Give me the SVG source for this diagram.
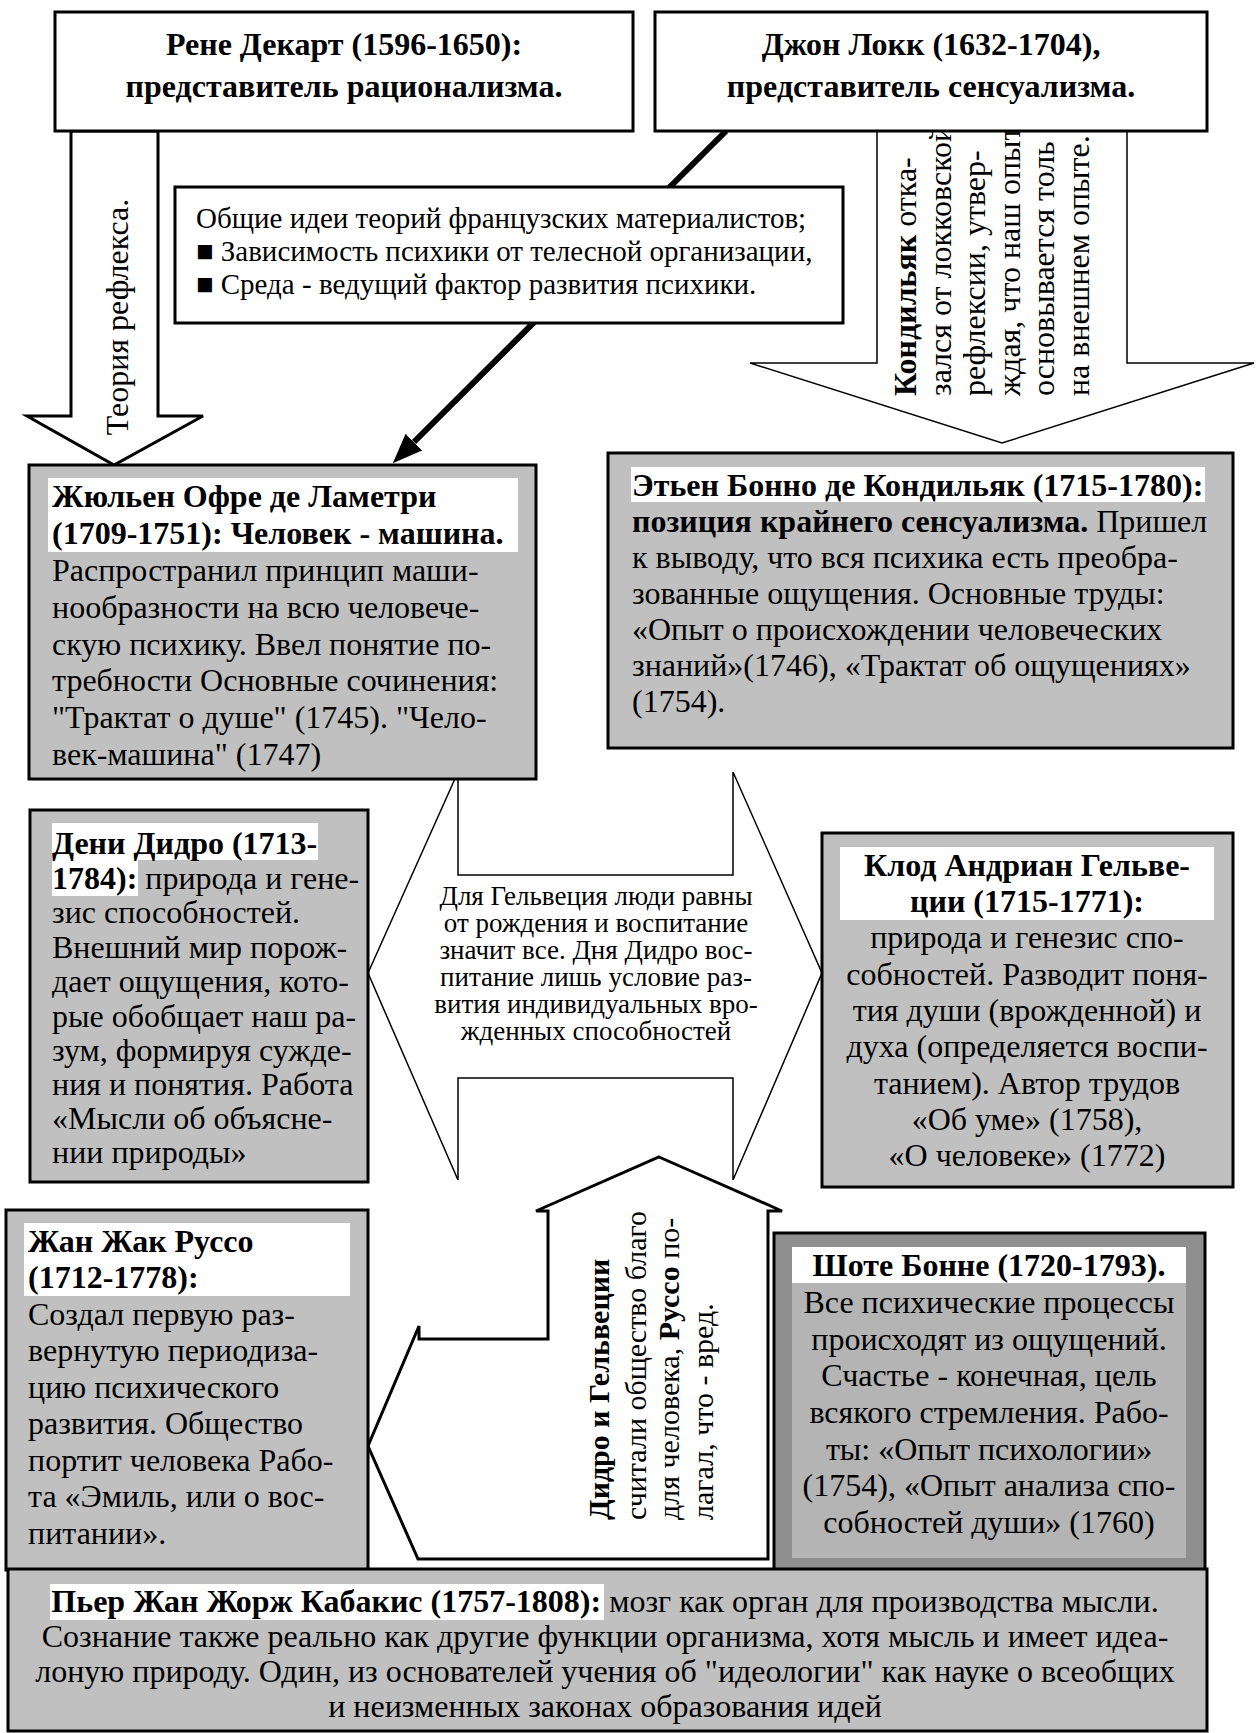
<svg xmlns="http://www.w3.org/2000/svg" width="1257" height="1733" viewBox="0 0 1257 1733">
<style>
text{font-family:"Liberation Serif","Times New Roman",serif;font-size:32px;fill:#000}
.b{font-weight:bold}
.c{text-anchor:middle}
.box{fill:#fff;stroke:#000;stroke-width:3}
.gray{fill:#c0c0c0;stroke:#000;stroke-width:3}
.hl{fill:#fff}
.thin{fill:#fff;stroke:#000;stroke-width:1.5}
.thick{fill:#fff;stroke:#000;stroke-width:3}
text.col{font-size:32px}
text.mid{font-size:27px;text-anchor:middle}
text.up{font-size:30px}
text.gen{font-size:29px}
</style>
<defs>
<marker id="ah" markerUnits="userSpaceOnUse" markerWidth="30" markerHeight="24" viewBox="0 0 28 22" refX="0" refY="11" orient="auto">
<path d="M0,0 L28,11 L0,22 z" fill="#000"/>
</marker>
</defs>
<rect width="1257" height="1733" fill="#fff"/>

<g id="connectors">
<polygon class="thick" points="71,131 71,416 27,416 114,465 203,416 158,416 158,131"/>
<text transform="translate(128,317) rotate(-90)" class="c">Теория рефлекса.</text>
<line x1="726" y1="131" x2="414" y2="442" stroke="#000" stroke-width="6" marker-end="url(#ah)"/>
<polygon class="thin" points="877,131 877,363 750,363 1002,443 1254,363 1127,363 1127,131"/>
<text class="col" transform="translate(916,396) rotate(-90)"><tspan class="b">Кондильяк</tspan> отка-</text>
<text class="col" transform="translate(950.5,396) rotate(-90)">зался от локковской</text>
<text class="col" transform="translate(985,396) rotate(-90)">рефлексии, утвер-</text>
<text class="col" transform="translate(1019.5,396) rotate(-90)">ждая, что наш опыт</text>
<text class="col" transform="translate(1054,396) rotate(-90)">основывается толь</text>
<text class="col" transform="translate(1088.5,396) rotate(-90)">на внешнем опыте.</text>
<polygon class="thin" points="368,973 458,772 458,875 733,875 733,772 822,973 733,1180 733,1078 458,1078 458,1180"/>
<text class="mid" x="596" y="905">Для Гельвеция люди равны</text>
<text class="mid" x="596" y="932">от рождения и воспитание</text>
<text class="mid" x="596" y="959">значит все. Дня Дидро вос-</text>
<text class="mid" x="596" y="986">питание лишь условие раз-</text>
<text class="mid" x="596" y="1013">вития индивидуальных вро-</text>
<text class="mid" x="596" y="1040">жденных способностей</text>
<polygon class="thick" points="659,1157 782,1211 768,1211 768,1559 418,1559 368,1446 419,1326 419,1339 548,1339 548,1211 536,1211"/>
<text class="up b" transform="translate(609,1520) rotate(-90)">Дидро и Гельвеции</text>
<text class="up" transform="translate(646,1520) rotate(-90)">считали общество благо</text>
<text class="up" transform="translate(679,1520) rotate(-90)">для человека, <tspan class="b">Руссо</tspan> по-</text>
<text class="up" transform="translate(713,1520) rotate(-90)">лагал, что - вред.</text>
</g>

<g id="descartes">
<rect class="box" x="55" y="12" width="578" height="119"/>
<text class="b c" x="344" y="55">Рене Декарт (1596-1650):</text>
<text class="b c" x="344" y="97">представитель рационализма.</text>
</g>

<g id="locke">
<rect class="box" x="655" y="12" width="552" height="119"/>
<text class="b c" x="931" y="55">Джон Локк (1632-1704),</text>
<text class="b c" x="931" y="97">представитель сенсуализма.</text>
</g>

<g id="common-ideas">
<rect class="box" x="175" y="187" width="668" height="136"/>
<text class="gen" x="196" y="228">Общие идеи теорий французских материалистов;</text>
<text class="gen" x="196" y="261">■ Зависимость психики от телесной организации,</text>
<text class="gen" x="196" y="294">■ Среда - ведущий фактор развития психики.</text>
</g>

<g id="lamettrie">
<rect class="gray" x="29" y="465" width="507" height="314"/>
<rect class="hl" x="48" y="478" width="470" height="74"/>
<text class="b" x="52" y="507">Жюльен Офре де Ламетри</text>
<text class="b" x="52" y="544">(1709-1751): Человек - машина.</text>
<text x="52" y="581">Распространил принцип маши-</text>
<text x="52" y="618">нообразности на всю человече-</text>
<text x="52" y="655">скую психику. Ввел понятие по-</text>
<text x="52" y="691">требности Основные сочинения:</text>
<text x="52" y="728">"Трактат о душе" (1745). "Чело-</text>
<text x="52" y="765">век-машина" (1747)</text>
</g>

<g id="condillac">
<rect class="gray" x="608" y="453" width="625" height="295"/>
<rect class="hl" x="631" y="467" width="574" height="35"/>
<text class="b" x="632" y="496">Этьен Бонно де Кондильяк (1715-1780):</text>
<text x="632" y="532"><tspan class="b">позиция крайнего сенсуализма.</tspan> Пришел</text>
<text x="632" y="568">к выводу, что вся психика есть преобра-</text>
<text x="632" y="604">зованные ощущения. Основные труды:</text>
<text x="632" y="640">«Опыт о происхождении человеческих</text>
<text x="632" y="676">знаний»(1746), «Трактат об ощущениях»</text>
<text x="632" y="712">(1754).</text>
</g>

<g id="diderot">
<rect class="gray" x="30" y="810" width="338" height="372"/>
<rect class="hl" x="52" y="823" width="266" height="37"/>
<rect class="hl" x="52" y="860" width="86" height="36"/>
<text class="b" x="52" y="854">Дени Дидро (1713-</text>
<text x="52" y="889"><tspan class="b">1784):</tspan> природа и гене-</text>
<text x="52" y="923">зис способностей.</text>
<text x="52" y="958">Внешний мир порож-</text>
<text x="52" y="992">дает ощущения, кото-</text>
<text x="52" y="1027">рые обобщает наш ра-</text>
<text x="52" y="1061">зум, формируя сужде-</text>
<text x="52" y="1095">ния и понятия. Работа</text>
<text x="52" y="1129">«Мысли об объясне-</text>
<text x="52" y="1163">нии природы»</text>
</g>

<g id="helvetius">
<rect class="gray" x="822" y="833" width="411" height="354"/>
<rect class="hl" x="840" y="847" width="374" height="73"/>
<text class="b c" x="1027" y="876">Клод Андриан Гельве-</text>
<text class="b c" x="1027" y="912">ции (1715-1771):</text>
<text class="c" x="1027" y="948">природа и генезис спо-</text>
<text class="c" x="1027" y="985">собностей. Разводит поня-</text>
<text class="c" x="1027" y="1021">тия души (врожденной) и</text>
<text class="c" x="1027" y="1057">духа (определяется воспи-</text>
<text class="c" x="1027" y="1094">танием). Автор трудов</text>
<text class="c" x="1027" y="1130">«Об уме» (1758),</text>
<text class="c" x="1027" y="1166">«О человеке» (1772)</text>
</g>

<g id="rousseau">
<rect class="gray" x="6" y="1210" width="362" height="360"/>
<rect class="hl" x="24" y="1223" width="326" height="73"/>
<text class="b" x="28" y="1252">Жан Жак Руссо</text>
<text class="b" x="28" y="1288">(1712-1778):</text>
<text x="28" y="1325">Создал первую раз-</text>
<text x="28" y="1361">вернутую периодиза-</text>
<text x="28" y="1398">цию психического</text>
<text x="28" y="1434">развития. Общество</text>
<text x="28" y="1471">портит человека Рабо-</text>
<text x="28" y="1507">та «Эмиль, или о вос-</text>
<text x="28" y="1544">питании».</text>
</g>

<g id="bonnet">
<rect x="774" y="1233" width="431" height="337" fill="#8f8f8f" stroke="#000" stroke-width="3"/>
<rect x="792" y="1247" width="394" height="311" fill="#b4b4b4"/>
<rect class="hl" x="792" y="1247" width="394" height="36"/>
<text class="b c" x="989" y="1276">Шоте Бонне (1720-1793).</text>
<text class="c" x="989" y="1313">Все психические процессы</text>
<text class="c" x="989" y="1350">происходят из ощущений.</text>
<text class="c" x="989" y="1386">Счастье - конечная, цель</text>
<text class="c" x="989" y="1423">всякого стремления. Рабо-</text>
<text class="c" x="989" y="1460">ты: «Опыт психологии»</text>
<text class="c" x="989" y="1496">(1754), «Опыт анализа спо-</text>
<text class="c" x="989" y="1533">собностей души» (1760)</text>
</g>

<g id="cabanis">
<rect class="gray" x="8" y="1569" width="1199" height="162"/>
<rect class="hl" x="50" y="1584" width="554" height="36"/>
<text class="c" x="605" y="1612"><tspan class="b">Пьер Жан Жорж Кабакис (1757-1808):</tspan> мозг как орган для производства мысли.</text>
<text class="c" x="605" y="1647">Сознание также реально как другие функции организма, хотя мысль и имеет идеа-</text>
<text class="c" x="605" y="1682">лоную природу. Один, из основателей учения об "идеологии" как науке о всеобщих</text>
<text class="c" x="605" y="1717">и неизменных законах образования идей</text>
</g>
</svg>
